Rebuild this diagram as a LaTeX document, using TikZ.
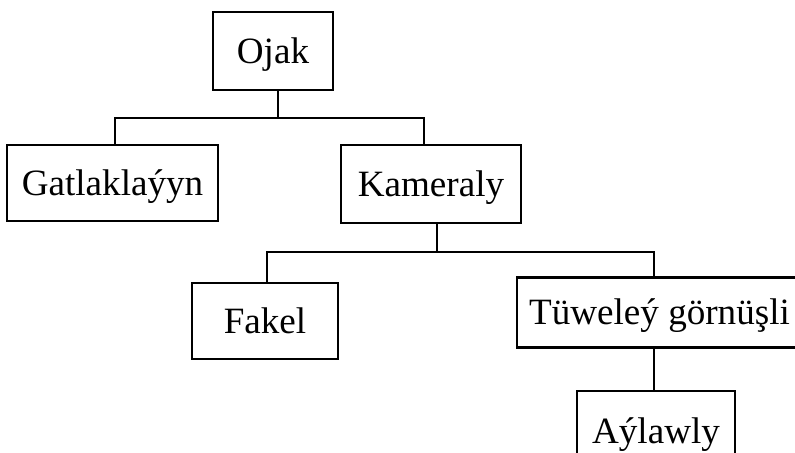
\documentclass[tikz,border=0pt]{standalone}
\usepackage{fontspec}
\setmainfont{Liberation Serif}
\tikzset{
  box/.style={draw, line width=2pt, inner sep=0pt, text height=17.5pt, text depth=0pt,
    font=\fontsize{26.4}{30}\selectfont},
  link/.style={line width=2pt}
}
\begin{document}
\begin{tikzpicture}[x=0.025cm,y=-0.025cm]
\useasboundingbox (0,0) rectangle (795,453);
\clip (0,0) rectangle (795,453);
\node[box, minimum width=120*0.025cm, minimum height=78*0.025cm] (ojak) at (273,51) {Ojak};
\node[box, minimum width=211*0.025cm, minimum height=76*0.025cm] (gat) at (112.5,183) {Gatlaklaýyn};
\node[box, minimum width=180*0.025cm, minimum height=78*0.025cm] (kam) at (431,184) {Kameraly};
\node[box, minimum width=146*0.025cm, minimum height=76*0.025cm] (fakel) at (265,321) {Fakel};
\node[box, minimum width=285*0.025cm, minimum height=70*0.025cm] (tuw) at (659.5,312.5) {Tüweleý görnüşli};
\node[box, minimum width=158*0.025cm, minimum height=80*0.025cm] (ayl) at (656,431) {Aýlawly};

% bus lines
\coordinate (b1) at (278,118);
\coordinate (b2) at (437,252);
\coordinate (k1) at (424,0);
\coordinate (t1) at (654,0);

\draw[link] (ojak.south -| b1) -- (b1);
\draw[link] (gat.north -| 115,0) |- (b1) -| (kam.north -| k1);
\draw[link] (kam.south -| b2) -- (b2);
\draw[link] (fakel.north -| 267,0) |- (b2) -| (tuw.north -| t1);
\draw[link] (tuw.south -| t1) -- (ayl.north -| t1);
\end{tikzpicture}
\end{document}
